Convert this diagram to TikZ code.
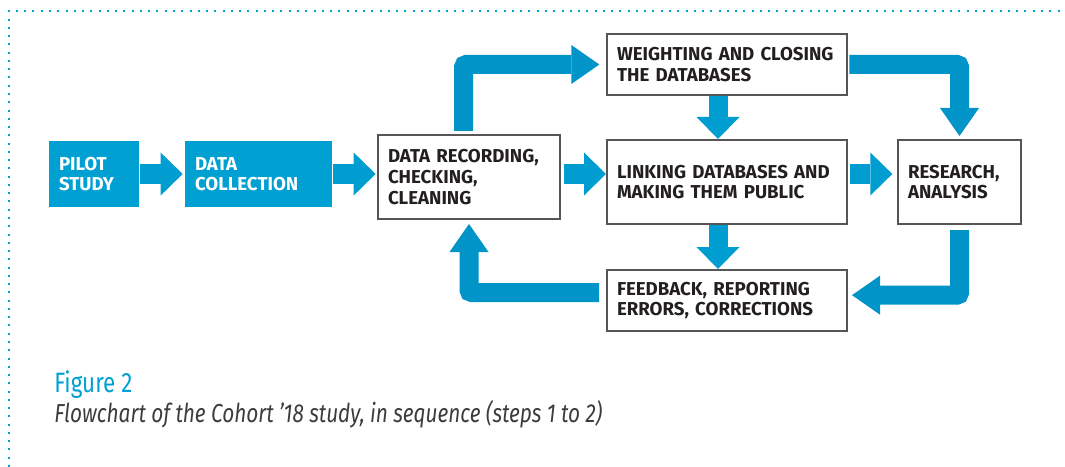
\documentclass[tikz,border=0pt]{standalone}
\usepackage{fontspec}
\setmainfont{Fira Sans}
\newfontfamily\capfont[FakeStretch=0.8]{Fira Sans}
\usetikzlibrary{arrows.meta}

\definecolor{boxblue}{RGB}{0,160,210}
\definecolor{arrowblue}{RGB}{0,157,208}
\definecolor{bendblue}{RGB}{0,148,201}
\definecolor{boxgray}{RGB}{85,85,85}
\definecolor{inkdark}{RGB}{35,31,32}
\definecolor{capgray}{RGB}{60,60,60}

\begin{document}
\begin{tikzpicture}[x=0.75pt, y=-0.75pt,
    box/.style={draw=boxgray, line width=1.5pt, text=inkdark, align=left,
      inner xsep=7.5pt, inner ysep=0pt,
      font=\bfseries\fontsize{14}{15.4}\selectfont},
    bluebox/.style={box, draw=none, fill=boxblue, text=white},
    straightarrow/.style={draw=arrowblue, line width=14.25pt,
      -{Triangle[width=32.25pt, length=16.5pt, line width=0pt 0 0]}},
    bendarrow/.style={draw=bendblue, line width=14.25pt, rounded corners=2pt,
      -{Triangle[width=29.25pt, length=21pt, line width=0pt 0 0]}}]

    \useasboundingbox (0,0) rectangle (1065,467);

    % Frame
    \draw[boxblue, line width=1.5pt, dash pattern=on 1.5pt off 4.7pt]
      (9,467) -- (9,11) -- (1065,11);

    % Nodes
    \node[bluebox, text width=52.5pt, minimum height=49.5pt] (pl) at (94,174) {PILOT\\STUDY};
    \node[bluebox, text width=95.25pt, minimum height=49.5pt] (dc) at (258.5,174) {DATA\\COLLECTION};
    \node[box, text width=121.5pt, minimum height=63pt] (dr) at (469,177) {DATA RECORDING,\\CHECKING,\\CLEANING};
    \node[box, text width=165pt, minimum height=45.75pt] (wt) at (727,64.5) {WEIGHTING AND CLOSING\\THE DATABASES};
    \node[box, text width=165pt, minimum height=63pt] (ln) at (727,182) {LINKING DATABASES AND\\MAKING THEM PUBLIC};
    \node[box, text width=77.25pt, minimum height=63pt] (rs) at (959.5,182) {RESEARCH,\\ANALYSIS};
    \node[box, text width=165pt, minimum height=45.75pt] (fb) at (727,300.5) {FEEDBACK, REPORTING\\ERRORS, CORRECTIONS};

    % Straight arrows
    \draw[straightarrow, shorten >=1pt] (pl.east) -- (dc.west);
    \draw[straightarrow, shorten >=1pt] (dc.east) -- (dc.east -| dr.west);
    \draw[straightarrow, shorten <=2pt] (dr.east |- dc.east) -- (ln.west |- dc.east);
    \draw[straightarrow, shorten <=1.5pt, shorten >=3.5pt] (ln.east |- dc.east) -- (rs.west |- dc.east);
    \draw[straightarrow] ([xshift=-6.75pt]wt.south) -- ([xshift=-6.75pt]ln.north);
    \draw[straightarrow] ([xshift=-6.75pt]ln.south) -- ([xshift=-6.75pt]fb.north);

    % Bent arrows
    \draw[bendarrow, shorten <=2.25pt, shorten >=5pt] ([xshift=-4pt]dr.north) |- (wt.west);
    \draw[bendarrow, shorten <=1pt, shorten >=2.25pt] (wt.east) -| (rs.north);
    \draw[bendarrow, shorten <=3.75pt, shorten >=3pt] (rs.south) |- ([yshift=4pt]fb.east);
    \draw[bendarrow, shorten <=5.25pt, shorten >=3pt] ([yshift=6pt]fb.west) -| (dr.south);

    % Caption
    \node[anchor=base west, inner sep=0pt, text=boxblue,
      font=\capfont\fontsize{21}{24}\selectfont] (figno) at (54,392) {Figure 2};
    \node[anchor=base west, inner sep=0pt, text=capgray,
      font=\capfont\itshape\fontsize{19.5}{22}\selectfont] (figcap) at (54,422)
      {Flowchart of the Cohort ’18 study, in sequence (steps 1 to 2)};

\end{tikzpicture}
\end{document}
